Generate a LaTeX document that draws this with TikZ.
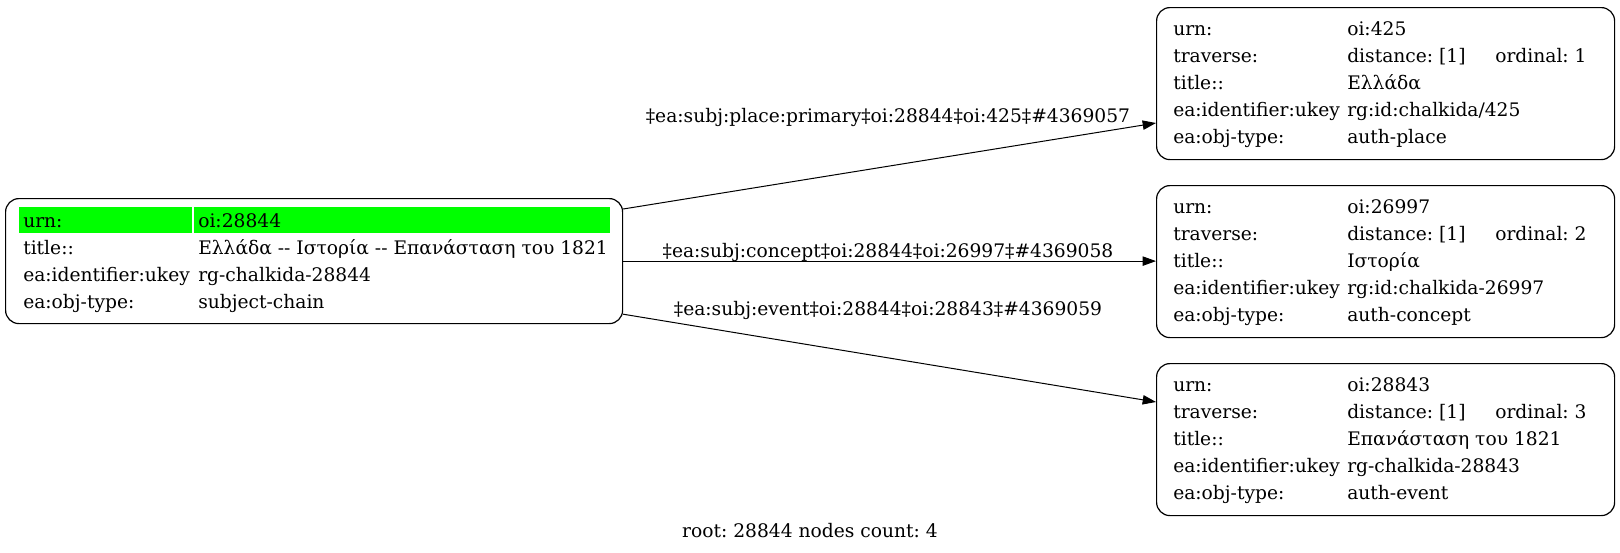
\documentclass[tikz,border=0pt]{standalone}
\usepackage{fontspec}
\setmainfont{DejaVu Serif}
\usetikzlibrary{arrows.meta,calc}
\definecolor{gvgreen}{RGB}{0,255,0}
\newcommand\dhy{\mbox{-}\mbox{-}}
\frenchspacing
\begin{document}
\begin{tikzpicture}[x=0.75pt,y=-0.75pt,
  font=\fontsize{14pt}{16pt}\selectfont\frenchspacing,
  box/.style={draw, rounded corners=10pt, line width=0.9pt, minimum width=343.5pt,
    minimum height=114pt, inner sep=0pt, anchor=north west},
  txt/.style={anchor=base west, inner sep=0pt},
  lbl/.style={anchor=base, inner sep=0pt},
  arr/.style={-{Triangle[length=10pt,width=7pt]}, line width=0.75pt}]
\useasboundingbox (0,0) rectangle (1620,553);
% boxes
\node[box, minimum width=462.75pt, minimum height=93.75pt] (L) at (5,198) {};
\node[box] (R1) at (1156,7) {};
\node[box] (R2) at (1156,185) {};
\node[box] (R3) at (1156,363) {};
% highlighted row
\fill[gvgreen] (19,207) rectangle (192,233);
\fill[gvgreen] (194,207) rectangle (610,233);
% left node text
\node[txt] (L1a) at (23,227) {urn:};
\node[txt] (L1b) at (198,227) {oi:28844};
\node[txt] (L2a) at (23,254) {title::};
\node[txt] (L2b) at (198,254) {Ελλάδα \dhy{} Ιστορία \dhy{} Επανάσταση του 1821};
\node[txt] (L3a) at (23,281) {ea:identifier:ukey};
\node[txt] (L3b) at (198,281) {rg-chalkida-28844};
\node[txt] (L4a) at (23,308) {ea:obj-type:};
\node[txt] (L4b) at (198,308) {subject-chain};
% right node 1
\node[txt] (A1a) at (1173,35) {urn:};
\node[txt] (A1b) at (1347,35) {oi:425};
\node[txt] (A2a) at (1173,62) {traverse:};
\node[txt] (A2b) at (1347,62) {distance: [1]};
\node[txt] (A2c) at (1495,62) {ordinal: 1};
\node[txt] (A3a) at (1173,89) {title::};
\node[txt] (A3b) at (1347,89) {Ελλάδα};
\node[txt] (A4a) at (1173,116) {ea:identifier:ukey};
\node[txt] (A4b) at (1347,116) {rg:id:chalkida/425};
\node[txt] (A5a) at (1173,143) {ea:obj-type:};
\node[txt] (A5b) at (1347,143) {auth-place};
% right node 2
\node[txt] (B1a) at (1173,213) {urn:};
\node[txt] (B1b) at (1347,213) {oi:26997};
\node[txt] (B2a) at (1173,240) {traverse:};
\node[txt] (B2b) at (1347,240) {distance: [1]};
\node[txt] (B2c) at (1495,240) {ordinal: 2};
\node[txt] (B3a) at (1173,267) {title::};
\node[txt] (B3b) at (1347,267) {Ιστορία};
\node[txt] (B4a) at (1173,294) {ea:identifier:ukey};
\node[txt] (B4b) at (1347,294) {rg:id:chalkida-26997};
\node[txt] (B5a) at (1173,321) {ea:obj-type:};
\node[txt] (B5b) at (1347,321) {auth-concept};
% right node 3
\node[txt] (C1a) at (1173,391) {urn:};
\node[txt] (C1b) at (1347,391) {oi:28843};
\node[txt] (C2a) at (1173,418) {traverse:};
\node[txt] (C2b) at (1347,418) {distance: [1]};
\node[txt] (C2c) at (1495,418) {ordinal: 3};
\node[txt] (C3a) at (1173,445) {title::};
\node[txt] (C3b) at (1347,445) {Επανάσταση του 1821};
\node[txt] (C4a) at (1173,472) {ea:identifier:ukey};
\node[txt] (C4b) at (1347,472) {rg-chalkida-28843};
\node[txt] (C5a) at (1173,499) {ea:obj-type:};
\node[txt] (C5b) at (1347,499) {auth-event};
% edges
\draw[arr] ($(L.north east)+(0,11)$) -- ($(R1.north west)+(0,116)$);
\draw[arr] (L.east) -- (L.east -| R2.west);
\draw[arr] ($(L.south east)+(0,-10)$) -- ($(R3.north west)+(0,39)$);
% edge labels
\node[lbl] (E1) at (888,122) {‡ea:subj:place:primary‡oi:28844‡oi:425‡\#4369057};
\node[lbl] (E2) at (888,257) {‡ea:subj:concept‡oi:28844‡oi:26997‡\#4369058};
\node[lbl] (E3) at (888,315) {‡ea:subj:event‡oi:28844‡oi:28843‡\#4369059};
% caption
\node[lbl] (cap) at (810,537) {root: 28844 nodes count: 4};
\end{tikzpicture}
\end{document}
